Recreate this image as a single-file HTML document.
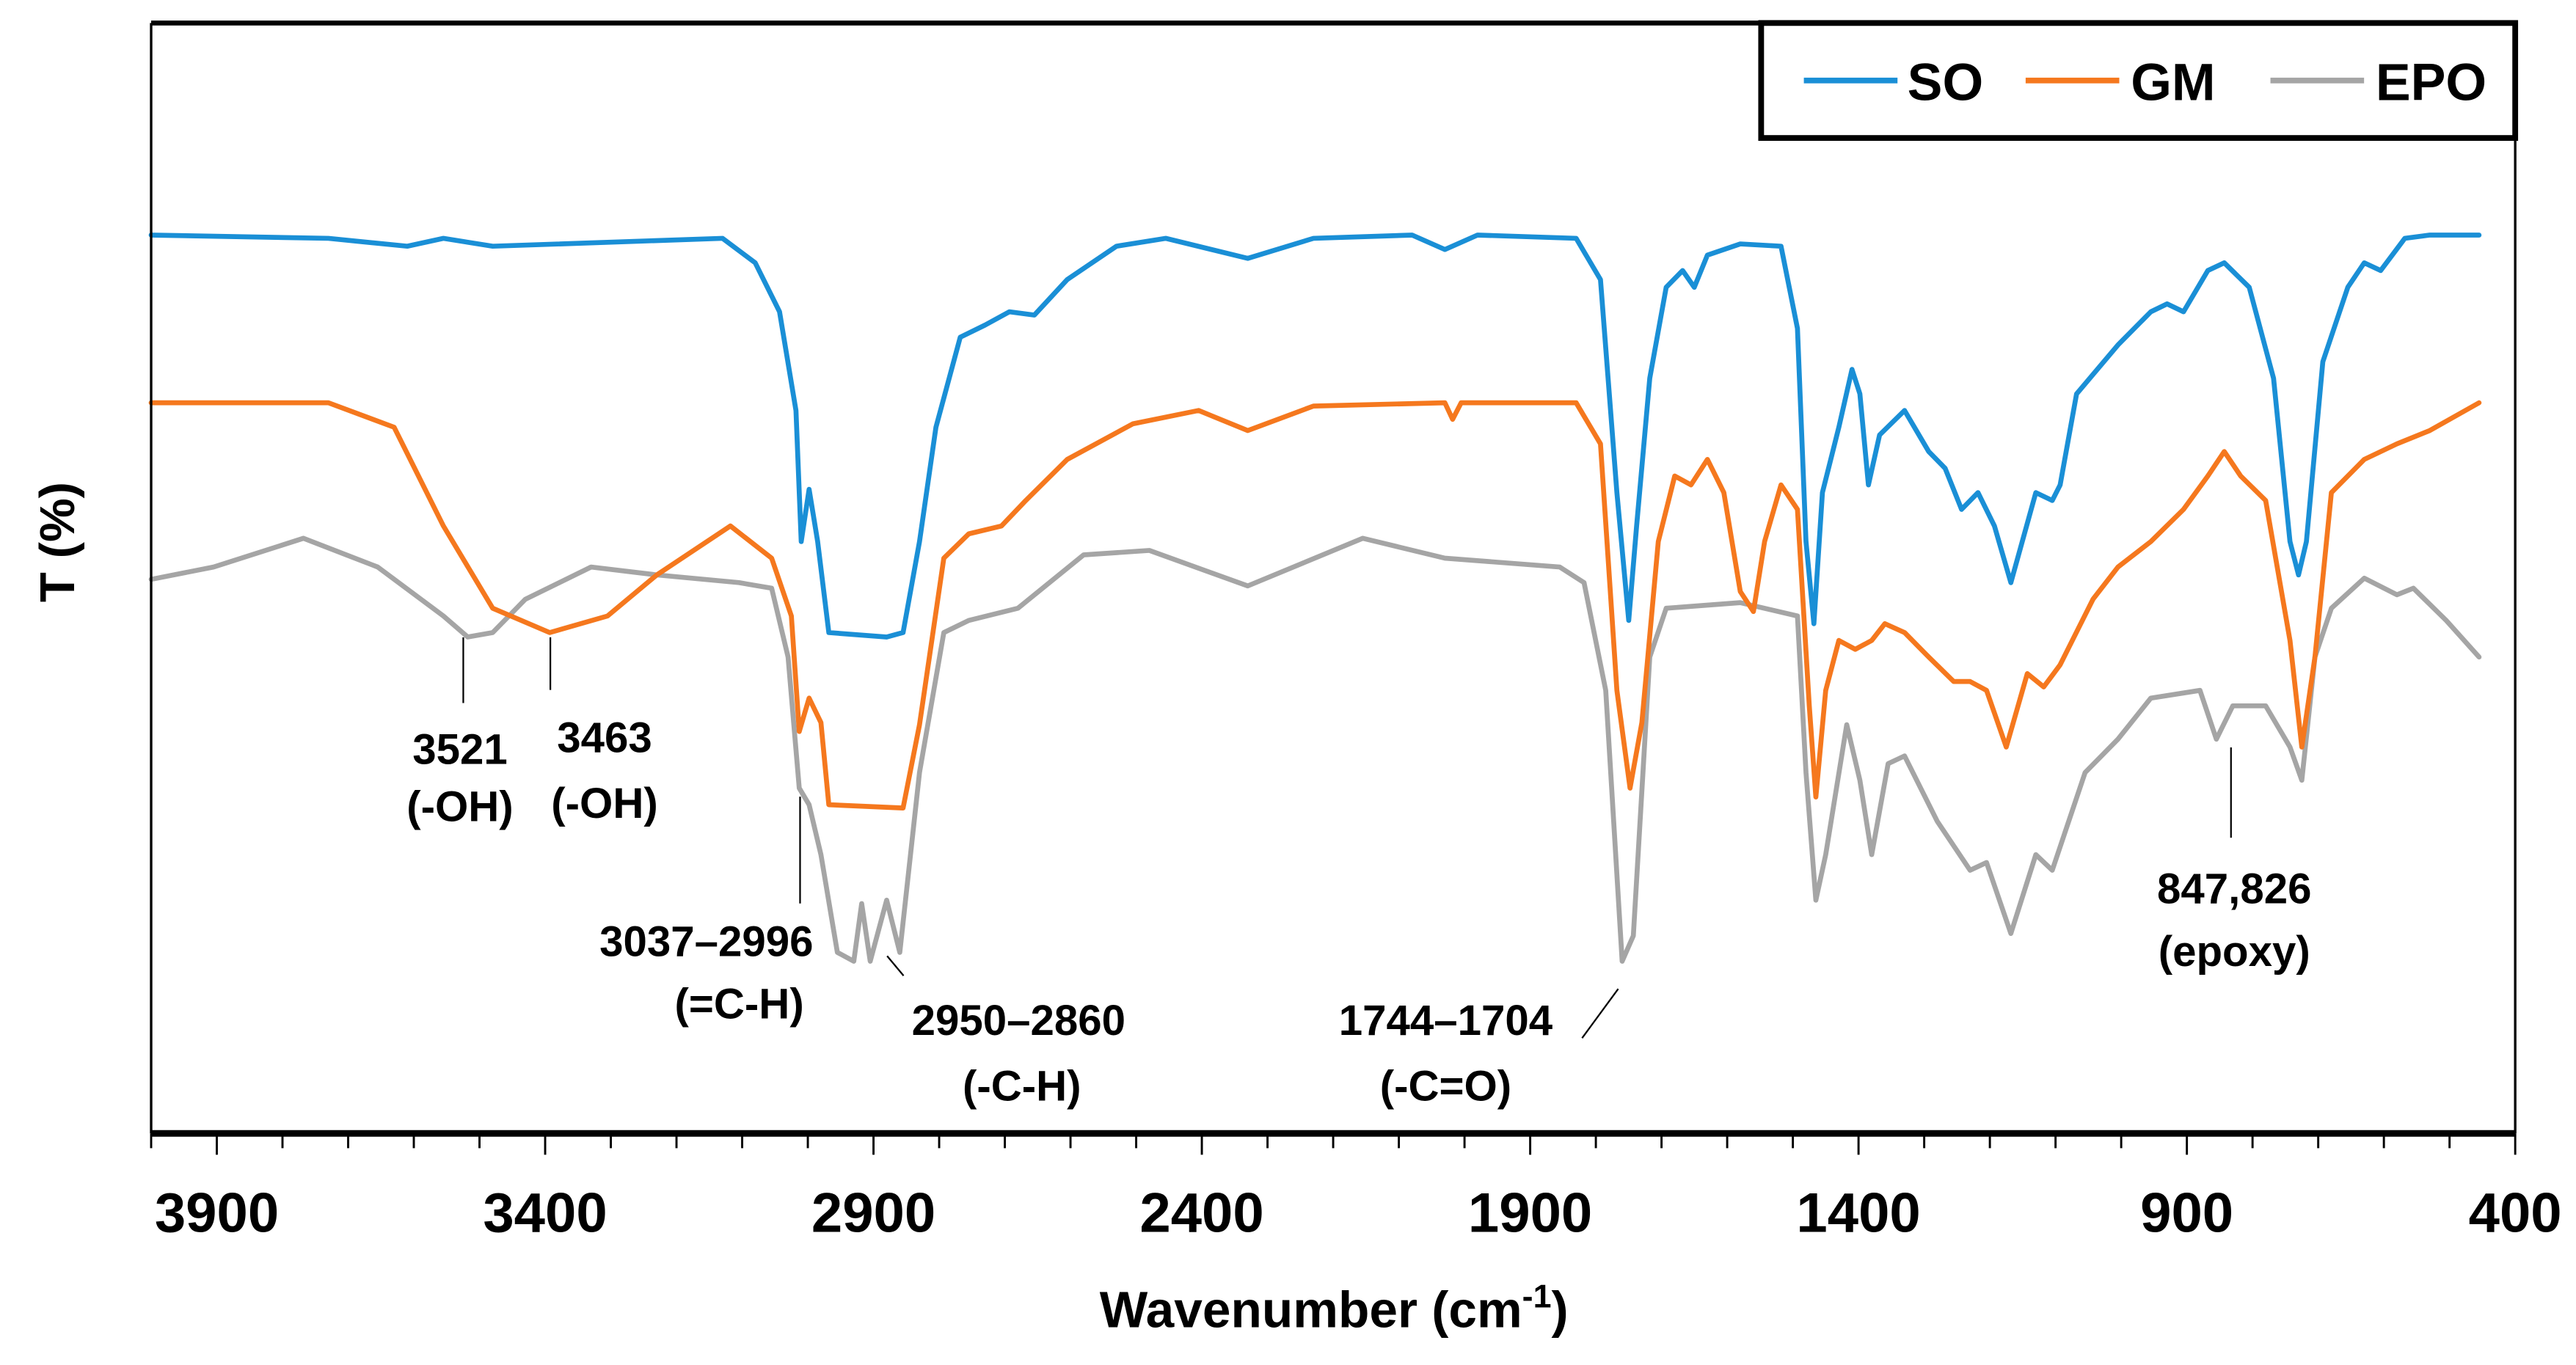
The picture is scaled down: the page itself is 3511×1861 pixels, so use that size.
<!DOCTYPE html>
<html><head><meta charset="utf-8"><style>
html,body{margin:0;padding:0;background:#fff}
svg{display:block}
text{font-family:"Liberation Sans",sans-serif;font-weight:bold;fill:#000}
</style></head><body>
<svg id="chart" width="3511" height="1861" viewBox="0 0 1568 831" preserveAspectRatio="none" xmlns="http://www.w3.org/2000/svg">
<rect x="0" y="0" width="1568" height="831" fill="#fff"/>
<g id="series"></g>
<g id="frame">
<line x1="92" y1="14" x2="1531" y2="14" stroke="#000" stroke-width="3"/>
<line x1="92" y1="14" x2="92" y2="690" stroke="#000" stroke-width="1.5"/>
<line x1="1531" y1="14" x2="1531" y2="690" stroke="#000" stroke-width="1.5"/>
<line x1="92" y1="690" x2="1531" y2="690" stroke="#000" stroke-width="4"/>
</g>
<g id="ticks"></g>
<g>
<rect x="1072" y="14" width="459" height="70" fill="#fff" stroke="#000" stroke-width="3.5"/>
<g><line x1="1098" y1="49" x2="1155" y2="49" stroke="#1a8fd6" stroke-width="3.5"/><text x="1161" y="61" font-size="32">SO</text></g>
<g><line x1="1233" y1="49" x2="1290" y2="49" stroke="#f5781e" stroke-width="3.5"/><text x="1297" y="61" font-size="32">GM</text></g>
<g><line x1="1382" y1="49" x2="1439" y2="49" stroke="#a5a5a5" stroke-width="3.5"/><text x="1446" y="61" font-size="32">EPO</text></g>
</g>
<text x="0" y="0" font-size="30" text-anchor="middle" transform="translate(45,330) rotate(-90)">T (%)</text>
<text x="812" y="808" font-size="31" text-anchor="middle">Wavenumber (cm<tspan font-size="20" dy="-12">-1</tspan><tspan dy="12">)</tspan></text>
<g font-size="26">
<line x1="282" y1="388" x2="282" y2="428" stroke="#000" stroke-width="1"/>
<line x1="335" y1="388" x2="335" y2="420" stroke="#000" stroke-width="1"/>
<text x="280" y="465" text-anchor="middle">3521</text>
<text x="280" y="500" text-anchor="middle">(-OH)</text>
<text x="368" y="458" text-anchor="middle">3463</text>
<text x="368" y="498" text-anchor="middle">(-OH)</text>
<line x1="487" y1="485" x2="487" y2="550" stroke="#000" stroke-width="1"/>
<text x="430" y="582" text-anchor="middle">3037–2996</text>
<text x="450" y="620" text-anchor="middle">(=C-H)</text>
<line x1="540" y1="582" x2="550" y2="594" stroke="#000" stroke-width="1"/>
<text x="620" y="630" text-anchor="middle">2950–2860</text>
<text x="622" y="670" text-anchor="middle">(-C-H)</text>
<line x1="985" y1="602" x2="963" y2="632" stroke="#000" stroke-width="1"/>
<text x="880" y="630" text-anchor="middle">1744–1704</text>
<text x="880" y="670" text-anchor="middle">(-C=O)</text>
<line x1="1358" y1="455" x2="1358" y2="510" stroke="#000" stroke-width="1"/>
<text x="1360" y="550" text-anchor="middle">847,826</text>
<text x="1360" y="588" text-anchor="middle">(epoxy)</text>
</g>
</svg>
<script>
const tickLabels=[3900,3400,2900,2400,1900,1400,900,400];
const soWn=[4000,3730,3610,3555,3480,3130,3080,3043,3018,3010,2998,2985,2968,2880,2855,2830,2805,2768,2730,2693,2655,2605,2530,2455,2330,2230,2080,2030,1980,1830,1793,1768,1750,1738,1718,1693,1668,1650,1630,1580,1518,1493,1480,1468,1455,1430,1410,1398,1385,1368,1330,1293,1268,1243,1218,1193,1168,1130,1105,1093,1068,1005,955,930,905,868,843,805,768,743,730,718,693,655,630,605,568,530,455];
const soT=[80.9,80.6,79.9,80.6,79.9,80.6,78.4,74.0,65.1,53.3,58.0,53.3,45.1,44.7,45.1,53.3,63.6,71.7,72.8,74.0,73.7,76.9,79.9,80.6,78.8,80.6,80.9,79.6,80.9,80.6,76.9,57.7,46.2,54.7,68.0,76.2,77.7,76.2,79.1,80.1,79.9,72.5,53.3,45.9,57.7,63.6,68.8,66.6,58.4,62.9,65.1,61.4,59.9,56.2,57.7,54.7,49.6,57.7,57.0,58.4,66.6,71.0,74.0,74.7,74.0,77.7,78.4,76.2,68.0,53.3,50.3,53.3,69.5,76.2,78.4,77.7,80.6,80.9,80.9];
const gmWn=[4000,3730,3630,3555,3480,3393,3305,3230,3118,3055,3025,3013,2998,2980,2968,2855,2830,2793,2755,2705,2668,2605,2505,2405,2330,2230,2030,2018,2005,1830,1793,1768,1748,1730,1705,1680,1655,1630,1605,1580,1560,1543,1518,1493,1475,1465,1450,1430,1405,1380,1360,1330,1293,1255,1230,1205,1175,1143,1118,1093,1043,1005,955,905,868,843,818,780,743,725,705,680,630,580,530,455];
const gmT=[65.8,65.8,63.6,54.7,47.3,45.1,46.6,50.3,54.7,51.8,46.6,36.2,39.2,37.0,29.6,29.3,36.8,51.8,54.0,54.7,57.0,60.7,63.9,65.1,63.3,65.5,65.8,64.3,65.8,65.8,62.1,39.9,31.1,37.0,53.3,59.2,58.4,60.7,57.7,48.8,47.0,53.3,58.4,56.2,38.5,30.3,39.9,44.4,43.6,44.4,45.9,45.1,42.9,40.7,40.7,39.9,34.8,41.4,40.2,42.2,48.1,51.0,53.3,56.2,59.2,61.4,59.2,57.0,44.4,34.8,42.9,57.7,60.7,62.1,63.3,65.8];
const epoWn=[4000,3905,3768,3655,3555,3518,3480,3430,3330,3230,3105,3055,3030,3013,2998,2980,2955,2930,2918,2905,2880,2860,2830,2793,2755,2680,2580,2480,2330,2155,2030,1855,1818,1785,1760,1743,1718,1693,1580,1493,1480,1465,1450,1418,1398,1380,1355,1330,1280,1230,1205,1168,1130,1105,1055,1005,955,880,855,830,780,743,725,705,680,630,580,555,505,455];
const epoT=[49.9,51.0,53.6,51.0,46.6,44.7,45.1,48.1,51.0,50.3,49.6,49.1,42.9,31.1,29.6,25.1,16.3,15.5,20.7,15.5,21.0,16.3,32.5,45.1,46.2,47.3,52.1,52.5,49.3,53.6,51.8,51.0,49.6,39.9,15.5,17.8,42.9,47.3,47.8,46.6,32.5,21.0,25.1,36.8,31.8,25.1,33.3,34.0,28.1,23.7,24.4,18.0,25.1,23.7,32.5,35.5,39.2,39.9,35.5,38.5,38.5,34.8,31.8,42.9,47.3,50.0,48.5,49.1,46.2,42.9];

const X0=92,X1=1531,Y0=14,Y1=690;
function xs(w){return X0+(4000-w)/3600*(X1-X0);}
function ys(t){return Y1-t/100*(Y1-Y0);}
const NS='http://www.w3.org/2000/svg';
const ticksG=document.getElementById('ticks');
for(let w=4000;w>=400;w-=100){
  const l=document.createElementNS(NS,'line');
  const major=tickLabels.indexOf(w)>=0;
  l.setAttribute('x1',xs(w));l.setAttribute('x2',xs(w));
  l.setAttribute('y1',Y1);l.setAttribute('y2',Y1+(major?13:9));
  l.setAttribute('stroke','#000');l.setAttribute('stroke-width','1.3');
  
  
  ticksG.appendChild(l);
}
tickLabels.forEach(w=>{
  const t=document.createElementNS(NS,'text');
  t.setAttribute('x',xs(w));t.setAttribute('y',750);
  t.setAttribute('font-size','34');t.setAttribute('text-anchor','middle');
  t.textContent=w;
  
  
  ticksG.appendChild(t);
});
const sg=document.getElementById('series');
function draw(wn,tv,color,name){
  const p=document.createElementNS(NS,'path');
  let d='';
  for(let i=0;i<wn.length;i++){d+=(i?'L':'M')+xs(wn[i]).toFixed(1)+','+ys(tv[i]).toFixed(1);}
  p.setAttribute('d',d);p.setAttribute('fill','none');p.setAttribute('stroke',color);
  p.setAttribute('stroke-width','3');p.setAttribute('stroke-linejoin','round');p.setAttribute('stroke-linecap','round');
  
  
  sg.appendChild(p);
}
draw(epoWn,epoT,'#a5a5a5','epo-line');
draw(gmWn,gmT,'#f5781e','gm-line');
draw(soWn,soT,'#1a8fd6','so-line');
</script>
</body></html>
